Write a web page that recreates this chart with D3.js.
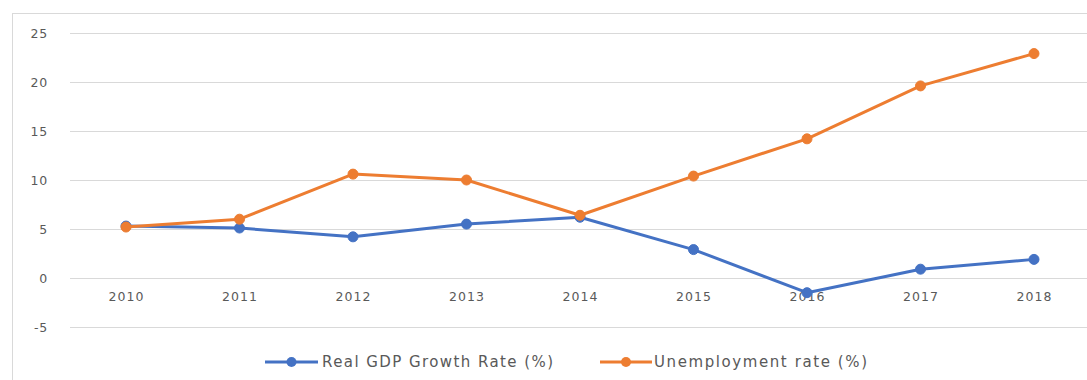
<!DOCTYPE html>
<html><head><meta charset="utf-8">
<script src="https://cdn.jsdelivr.net/npm/d3@7"></script>
<style>body{margin:0;background:#fff;}svg{display:block;}</style>
</head><body>
<svg id="c" width="1087" height="380"></svg>
<script>
const years = ["2010","2011","2012","2013","2014","2015","2016","2017","2018"];
const gdpGrowth = [5.3, 5.1, 4.2, 5.5, 6.2, 2.9, -1.5, 0.9, 1.9];
const unemployment = [5.2, 6.0, 10.6, 10.0, 6.4, 10.4, 14.2, 19.6, 22.9];
const yTicks = [-5, 0, 5, 10, 15, 20, 25];
const seriesNames = ["Real GDP Growth Rate (%)", "Unemployment rate (%)"];
const colors = ["#4472C4", "#ED7D31"];

const svg = d3.select("#c");
const font = "'DejaVu Sans', sans-serif";
const textColor = "#595959";

// chart area border
svg.append("rect").attr("x",12.5).attr("y",13.5).attr("width",1100).attr("height",400)
  .attr("fill","#fff").attr("stroke","#d9d9d9").attr("stroke-width",1);

const x = d3.scalePoint().domain(years).range([126, 1034]);
const y = d3.scaleLinear().domain([-5, 25]).range([327, 33]);

// gridlines
svg.append("g").selectAll("line").data(yTicks).join("line")
  .attr("x1",70).attr("x2",1091)
  .attr("y1",d=>Math.round(y(d))+0.5).attr("y2",d=>Math.round(y(d))+0.5)
  .attr("stroke","#d9d9d9").attr("stroke-width",1);

// y axis labels
const yAxis = d3.axisLeft(y).tickValues(yTicks).tickSize(0).tickPadding(0).tickFormat(d=>String(d));
const yg = svg.append("g").attr("transform","translate(48,0)").call(yAxis);
yg.select(".domain").remove();
yg.selectAll("text").attr("font-family",font).attr("font-size",12.5).attr("letter-spacing",0.8).attr("fill",textColor);

// x axis labels below zero line
const xAxis = d3.axisBottom(x).tickSize(0).tickPadding(0);
const xg = svg.append("g").attr("transform",`translate(0,${y(0)+14})`).call(xAxis);
xg.select(".domain").remove();
xg.selectAll("text").attr("font-family",font).attr("font-size",12.5).attr("letter-spacing",1).attr("fill",textColor);

const series = [gdpGrowth, unemployment];
const line = d3.line().x((d,i)=>x(years[i])).y(d=>y(d));

[0,1].forEach(k=>{
  const g = svg.append("g");
  g.append("path").datum(series[k]).attr("d",line).attr("fill","none")
    .attr("stroke",colors[k]).attr("stroke-width",3).attr("stroke-linejoin","round").attr("stroke-linecap","round");
  g.selectAll("circle").data(series[k]).join("circle")
    .attr("cx",(d,i)=>x(years[i])).attr("cy",d=>y(d)).attr("r",5)
    .attr("fill",colors[k]).attr("stroke",colors[k]);
});

// legend
const legendItems = [{x0:265, x1:318, tx:322, w:231}, {x0:600, x1:652, tx:654, w:213}];
const ly = 362;
legendItems.forEach((it,k)=>{
  const g = svg.append("g");
  g.append("line").attr("x1",it.x0).attr("x2",it.x1).attr("y1",ly).attr("y2",ly)
    .attr("stroke",colors[k]).attr("stroke-width",3);
  g.append("circle").attr("cx",(it.x0+it.x1)/2).attr("cy",ly).attr("r",5).attr("fill",colors[k]);
  g.append("text").attr("x",it.tx).attr("y",ly).attr("dy","0.35em")
    .attr("font-family",font).attr("font-size",15).attr("fill",textColor)
    .attr("textLength",it.w).attr("lengthAdjust","spacing").text(seriesNames[k]);
});
</script>
</body></html>
